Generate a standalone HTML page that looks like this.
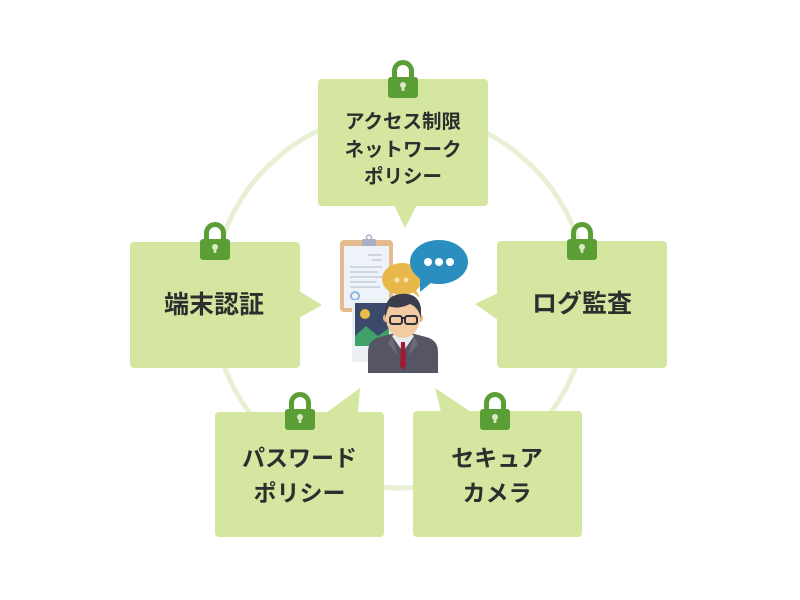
<!DOCTYPE html>
<html><head><meta charset="utf-8"><style>
html,body{margin:0;padding:0;background:#fff;}
svg{display:block;}
text{font-family:"Liberation Sans","Noto Sans CJK JP",sans-serif;font-weight:bold;fill:#2e2e2e;}
</style></head><body>
<svg width="800" height="600" viewBox="0 0 800 600" xmlns="http://www.w3.org/2000/svg">
<rect width="800" height="600" fill="#fff"/>
<circle cx="400" cy="300" r="188" fill="none" stroke="#e8f0d6" stroke-width="5"/>

<g fill="#d4e6a0">
<rect x="318" y="79" width="170" height="127" rx="4"/>
<polygon points="394,205 417,205 405,228"/>
<rect x="130" y="242" width="170" height="126" rx="4"/>
<polygon points="299,291 299,318 322,305"/>
<rect x="497" y="241" width="170" height="127" rx="4"/>
<polygon points="498,293 498,320 475,304"/>
<rect x="215" y="412" width="169" height="125" rx="4"/>
<polygon points="326,413 358,413 360,388"/>
<rect x="413" y="411" width="169" height="126" rx="4"/>
<polygon points="441,412 471,412 435,388"/>
</g>

<defs>
<g id="lock">
<path d="M6.5,18 V11 A8.5,8.5 0 0 1 23.5,11 V18" fill="none" stroke="#5b9e36" stroke-width="5"/>
<rect x="0" y="17" width="30" height="21" rx="3" fill="#5b9e36"/>
<circle cx="15" cy="25" r="3" fill="#dce9c4"/>
<rect x="13.6" y="25" width="2.8" height="6" rx="1" fill="#dce9c4"/>
</g>
</defs>
<use href="#lock" x="388" y="60"/>
<use href="#lock" x="200" y="222"/>
<use href="#lock" x="567" y="222"/>
<use href="#lock" x="285" y="392"/>
<use href="#lock" x="480" y="392"/>

<text x="403" y="122" font-size="19.5" text-anchor="middle" dominant-baseline="central">アクセス制限</text>
<text x="403" y="150" font-size="19.5" text-anchor="middle" dominant-baseline="central">ネットワーク</text>
<text x="403" y="177" font-size="19.5" text-anchor="middle" dominant-baseline="central">ポリシー</text>
<text x="214" y="305" font-size="25" text-anchor="middle" dominant-baseline="central">端末認証</text>
<text x="582" y="304" font-size="25" text-anchor="middle" dominant-baseline="central">ログ監査</text>
<text x="299.5" y="458" font-size="23" text-anchor="middle" dominant-baseline="central">パスワード</text>
<text x="299.5" y="493" font-size="23" text-anchor="middle" dominant-baseline="central">ポリシー</text>
<text x="497" y="458" font-size="23" text-anchor="middle" dominant-baseline="central">セキュア</text>
<text x="497" y="493" font-size="23" text-anchor="middle" dominant-baseline="central">カメラ</text>

<!-- center illustration -->
<g>
<rect x="340" y="240" width="53" height="72" rx="4" fill="#e3bb8e"/>
<rect x="344" y="246" width="45" height="62" fill="#eef2f9"/>
<rect x="362" y="239" width="14" height="7" rx="1.5" fill="#a7b0c4"/>
<circle cx="369" cy="237.5" r="2.5" fill="none" stroke="#a7b0c4" stroke-width="1.5"/>
<g fill="#cfd5e1">
<rect x="368" y="254" width="14" height="2"/>
<rect x="372" y="259" width="10" height="2"/>
<rect x="350" y="266" width="32" height="2"/>
<rect x="350" y="271" width="28" height="2"/>
<rect x="350" y="276" width="32" height="2"/>
<rect x="350" y="281" width="26" height="2"/>
<rect x="350" y="286" width="30" height="2"/>
</g>
<circle cx="355" cy="296" r="4" fill="none" stroke="#8fb8e0" stroke-width="2"/>

<rect x="352" y="300" width="40" height="62" fill="#eceff3"/>
<rect x="355" y="303" width="34" height="43" fill="#3b4a6b"/>
<circle cx="365" cy="314" r="5" fill="#e9b949"/>
<polygon points="355,346 355,336 366,326 378,336 389,328 389,346" fill="#3fa068"/>

<ellipse cx="402" cy="279" rx="20" ry="16" fill="#e8b94a"/>
<polygon points="410,290 420,298 414,286" fill="#e8b94a"/>
<circle cx="397" cy="280" r="2.5" fill="#f6e3b0"/>
<circle cx="406" cy="280" r="2.5" fill="#f6e3b0"/>

<ellipse cx="439" cy="262" rx="29" ry="22" fill="#2a8fbf"/>
<polygon points="420,276 432,282 420,292" fill="#2a8fbf"/>
<circle cx="428" cy="262" r="4" fill="#fff"/>
<circle cx="439" cy="262" r="4" fill="#fff"/>
<circle cx="450" cy="262" r="4" fill="#fff"/>

<path d="M368,373 V352 Q368,340 380,337 L395,333 H411 L426,337 Q438,340 438,352 V373 Z" fill="#555563"/>
<rect x="395" y="325" width="16" height="16" fill="#e6b68b"/>
<polygon points="392,336 403,352 414,336 410,333 396,333" fill="#e9ecf1"/>
<polygon points="401,342 405,342 406,366 403,370 400,366" fill="#9c1d33"/>
<polygon points="392,336 398,356 388,344" fill="#6a6a78"/>
<polygon points="414,336 408,356 418,344" fill="#6a6a78"/>
<ellipse cx="386" cy="318" rx="3" ry="4" fill="#e6b68b"/>
<ellipse cx="420" cy="318" rx="3" ry="4" fill="#e6b68b"/>
<ellipse cx="403" cy="318" rx="17" ry="20" fill="#f3cba2"/>
<path d="M385,318 Q383,296 400,294 Q418,292 421,308 L421,318 Q418,307 410,304 Q398,310 388,306 Z" fill="#3a3d4b"/>
<rect x="390" y="316" width="12" height="8" rx="2.5" fill="none" stroke="#2d2f3a" stroke-width="2"/>
<rect x="405" y="316" width="12" height="8" rx="2.5" fill="none" stroke="#2d2f3a" stroke-width="2"/>
<line x1="402" y1="318" x2="405" y2="318" stroke="#2d2f3a" stroke-width="2"/>
</g>
</svg>
</body></html>
